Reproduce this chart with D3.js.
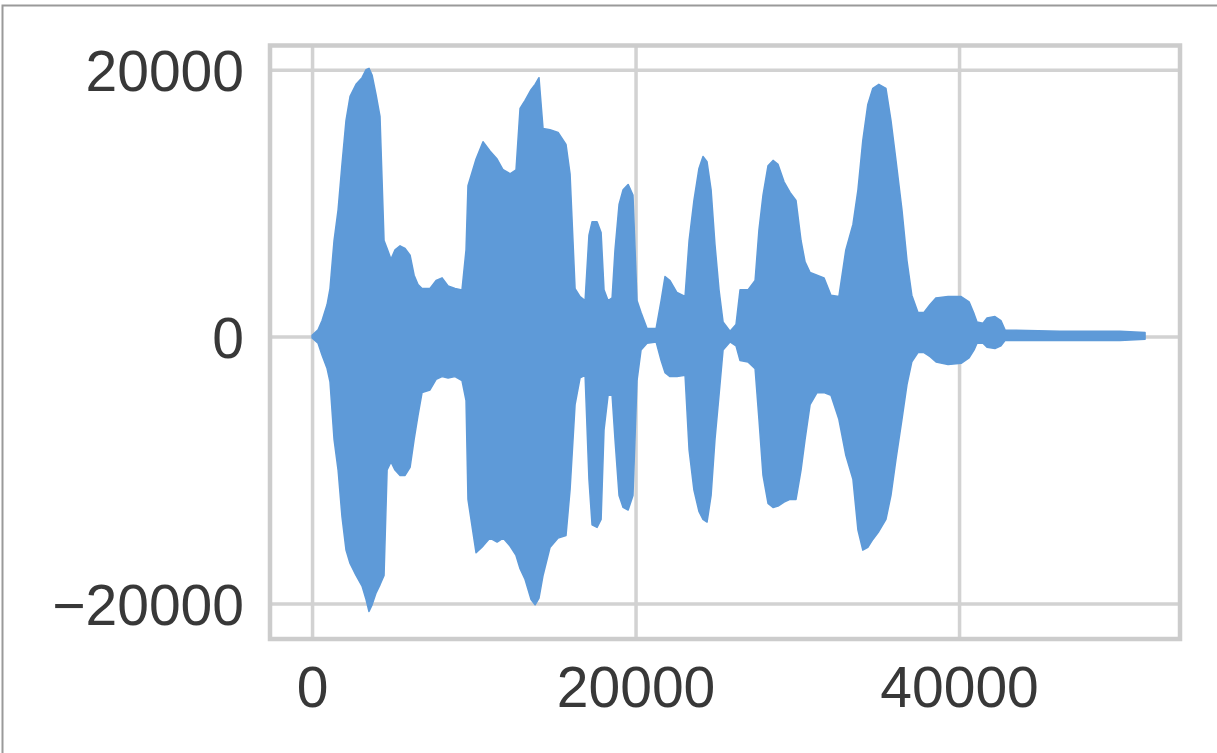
<!DOCTYPE html>
<html>
<head>
<meta charset="utf-8">
<script src="https://cdn.jsdelivr.net/npm/d3@7"></script>
<style>
  html, body { margin: 0; padding: 0; background: #ffffff; overflow: hidden; }
  svg { display: block; }
  text { font-family: "Liberation Sans", Arial, sans-serif; }
</style>
</head>
<body>
<svg id="chart" width="1217" height="753"></svg>
<script>
// Waveform envelope: sample index with the upper and lower amplitude at that sample
const sampleIdx = [0,370,620,930,1110,1360,1610,1850,2100,2350,2720,3090,3340,3520,3710,3960,4200,4450,4640,4880,5130,5440,5750,6060,6310,6550,6800,7290,7670,8040,8410,8840,9270,9520,9640,10140,10570,11000,11440,11810,12240,12610,12860,13170,13540,13790,14030,14280,14710,15210,15700,15950,16260,16570,16880,17120,17310,17620,17870,18050,18300,18550,18730,18980,19230,19540,19840,20090,20340,20710,21270,21580,21820,22130,22560,23060,23310,23610,23920,24170,24420,24670,24910,25160,25410,25840,26210,26460,26950,27390,27630,27880,28190,28500,28810,29180,29550,29920,30230,30480,30790,31220,31650,32080,32570,33000,33440,33750,34050,34360,34670,35040,35480,35790,36100,36470,36780,37080,37460,37830,38210,38580,39320,40130,40620,40930,41110,41480,41730,42220,42590,42840,46240,49950,51500];
const upperEnv = [100,500,1200,2400,3600,7200,9500,12900,16200,18000,18900,19400,20000,20100,19600,18100,16500,7200,6600,5800,6500,6800,6600,6100,4600,3900,3600,3600,4200,4400,3800,3600,3500,6500,11300,13300,14600,13900,13300,12500,12200,12500,17100,17700,18500,18900,19400,15600,15500,15300,14400,12200,3600,3000,2700,7600,8600,8600,7800,3500,2700,2900,6500,9900,11000,11400,10600,2700,1800,600,600,2700,4500,4200,3300,3000,7200,10200,12600,13500,13100,11000,6900,3500,1100,400,900,3500,3500,4200,8000,10600,12800,13200,12900,11600,10800,10200,7200,5600,4800,4600,4400,3100,3000,6500,8400,11000,14700,17400,18600,18900,18600,16200,13200,9500,5700,3100,1800,1800,2400,2900,3000,3000,2600,1700,1100,1000,1400,1500,1200,500,400,400,300];
const lowerEnv = [-100,-500,-1400,-2400,-3400,-7700,-10000,-13500,-16000,-17000,-17900,-18700,-19700,-20600,-20100,-19200,-18600,-17900,-10000,-9400,-10000,-10400,-10400,-9800,-7700,-5900,-4200,-4000,-3200,-3000,-3100,-3000,-3300,-4800,-12200,-16200,-15700,-15100,-15400,-15100,-15700,-16400,-17400,-18200,-19700,-20100,-19600,-17900,-15800,-15100,-14900,-11500,-5100,-3100,-2900,-10700,-14100,-14300,-13700,-7000,-4400,-4400,-7700,-11900,-12800,-13000,-11900,-3300,-1000,-500,-400,-1800,-2700,-3000,-3000,-2900,-8500,-11500,-13100,-13700,-13900,-11900,-7700,-4400,-1000,-400,-700,-1800,-1900,-2400,-6200,-10400,-12500,-12800,-12700,-12400,-12200,-12200,-10000,-7700,-5100,-4200,-4200,-4400,-6200,-8900,-10700,-14500,-16000,-15800,-15200,-14600,-13700,-11900,-9200,-6200,-3600,-1900,-1200,-1200,-1500,-1900,-2100,-2000,-1600,-1000,-500,-500,-800,-900,-700,-300,-300,-300,-200];

// Axis ticks
const xTicks = [0, 20000, 40000];
const yTicks = [-20000, 0, 20000];

const svg = d3.select("#chart");
const plot = { left: 270, right: 1180, top: 45.5, bottom: 639 };

const x = d3.scaleLinear().domain([-2600, 53660]).range([plot.left, plot.right]);
const y = d3.scaleLinear().domain([-22660, 21810]).range([plot.bottom, plot.top]);

// Outer figure border
svg.append("rect")
  .attr("x", 2.5).attr("y", 5.5)
  .attr("width", 1400).attr("height", 1000)
  .attr("fill", "none")
  .attr("stroke", "#9a9a9a")
  .attr("stroke-width", 2);

const fmt = d3.format("d");

// Horizontal grid + y labels
const yAxis = svg.append("g")
  .attr("transform", `translate(${plot.left},0)`)
  .call(d3.axisLeft(y).tickValues(yTicks).tickFormat(fmt)
    .tickSize(-(plot.right - plot.left)).tickPadding(26));

// Vertical grid + x labels
const xAxis = svg.append("g")
  .attr("transform", `translate(0,${plot.bottom})`)
  .call(d3.axisBottom(x).tickValues(xTicks).tickFormat(fmt)
    .tickSize(-(plot.bottom - plot.top)).tickPadding(28));

[yAxis, xAxis].forEach(g => {
  g.select(".domain").remove();
  g.selectAll(".tick line").attr("stroke", "#d2d2d2").attr("stroke-width", 3.5);
  g.selectAll(".tick text")
    .attr("fill", "#383838")
    .attr("font-size", 57)
    .attr("font-family", "'Liberation Sans', Arial, sans-serif");
});
yAxis.selectAll(".tick text").attr("dy", "0.36em");

// Waveform as a filled amplitude envelope
const env = sampleIdx.map((s, i) => ({ s, hi: upperEnv[i], lo: lowerEnv[i] }));
const area = d3.area()
  .x(d => x(d.s))
  .y0(d => y(d.lo))
  .y1(d => y(d.hi))
  .curve(d3.curveLinear);

svg.append("path")
  .datum(env)
  .attr("d", area)
  .attr("fill", "#5e9ad8")
  .attr("stroke", "#5e9ad8")
  .attr("stroke-width", 1.5)
  .attr("stroke-linejoin", "round");

// Axes frame
svg.append("rect")
  .attr("x", plot.left).attr("y", plot.top)
  .attr("width", plot.right - plot.left)
  .attr("height", plot.bottom - plot.top)
  .attr("fill", "none")
  .attr("stroke", "#cccccc")
  .attr("stroke-width", 4.5);
</script>
</body>
</html>
